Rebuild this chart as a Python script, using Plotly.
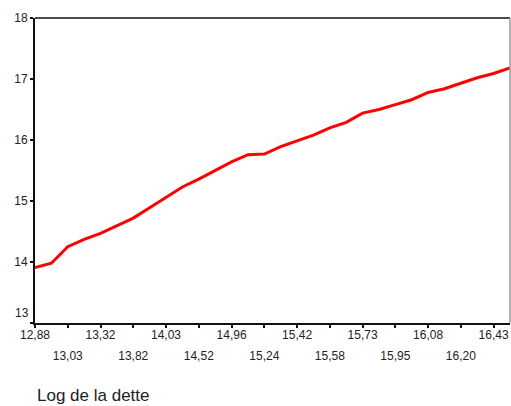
import plotly.graph_objects as go

# Sorted "Log de la dette" observations (only every other one is labelled on the axis)
tick_labels_row1 = ["12,88", "13,32", "14,03", "14,96", "15,42", "15,73", "16,08", "16,43"]
tick_labels_row2 = ["13,03", "13,82", "14,52", "15,24", "15,58", "15,95", "16,20"]

# Series values (one per observation, in axis order)
values = [13.91, 13.98, 14.25, 14.37, 14.47, 14.60, 14.72, 14.89, 15.06, 15.23,
          15.36, 15.50, 15.64, 15.76, 15.77, 15.89, 15.98, 16.08, 16.20, 16.29,
          16.44, 16.50, 16.58, 16.66, 16.78, 16.84, 16.93, 17.02, 17.09, 17.18]

x_title = "Log de la dette"
y_ticks = [13, 14, 15, 16, 17, 18]

n = len(values)
obs = list(range(n))
row1_pos = obs[0::4]
row2_pos = obs[2::4]

font = dict(family="Liberation Sans, Arial, sans-serif", size=12, color="#222")

fig = go.Figure()
fig.add_trace(go.Scatter(x=obs, y=values, mode="lines",
                         line=dict(color="#ff0000", width=3), showlegend=False))
# invisible trace to activate the second (label) axis
fig.add_trace(go.Scatter(x=[obs[0]], y=[values[0]], xaxis="x2", mode="lines",
                         line=dict(width=0), showlegend=False, hoverinfo="skip"))

# lowest y label is drawn raised above its tick (as in the reference), others normal
y_ticktext = ["" if v == y_ticks[0] else str(v) for v in y_ticks]

fig.update_layout(
    width=511, height=406,
    margin=dict(l=35, r=1, t=18, b=83),
    paper_bgcolor="white", plot_bgcolor="white",
    font=font,
    xaxis=dict(range=[0, n - 1], tickmode="array", tickvals=obs[0::2],
               ticktext=[tick_labels_row1[i // 2] if i % 2 == 0 else "" for i in range(len(obs[0::2]))],
               ticks="outside", ticklen=3, tickwidth=2, tickcolor="#111",
               showline=True, linecolor="#111", linewidth=2,
               showgrid=False, zeroline=False, tickfont=font,
               automargin=False, ticklabelstandoff=-3),
    xaxis2=dict(range=[0, n - 1], overlaying="x", anchor="y", side="bottom",
                tickmode="array", tickvals=row2_pos, ticktext=tick_labels_row2,
                ticks="", showline=False, showgrid=False, zeroline=False,
                ticklabelstandoff=24, tickfont=font, automargin=False),
    yaxis=dict(range=[13, 18], tickmode="array", tickvals=y_ticks, ticktext=y_ticktext,
               ticks="outside", ticklen=3, tickwidth=2, tickcolor="#111",
               showline=True, linecolor="#111", linewidth=2,
               showgrid=False, zeroline=False, tickfont=font, automargin=False),
    shapes=[
        dict(type="line", xref="paper", yref="paper", x0=0, x1=1, y0=1, y1=1,
             line=dict(color="#111", width=1.5)),
        dict(type="line", xref="paper", yref="paper", x0=1, x1=1, y0=0, y1=1,
             line=dict(color="#999", width=1.5)),
    ],
    annotations=[
        dict(text=x_title, xref="paper", yref="paper", x=0, y=0,
             xanchor="left", yanchor="middle", yshift=-72, showarrow=False,
             font=dict(family="Liberation Sans, Arial, sans-serif", size=17, color="#222")),
        dict(text=str(y_ticks[0]), xref="paper", yref="y", x=0, y=y_ticks[0],
             xanchor="right", yanchor="middle", xshift=-4, yshift=10, showarrow=False,
             font=font),
    ],
)

fig.write_html("out.html", config={"displayModeBar": False},
               post_script="document.body.style.margin='0';document.body.style.overflow='hidden';")
